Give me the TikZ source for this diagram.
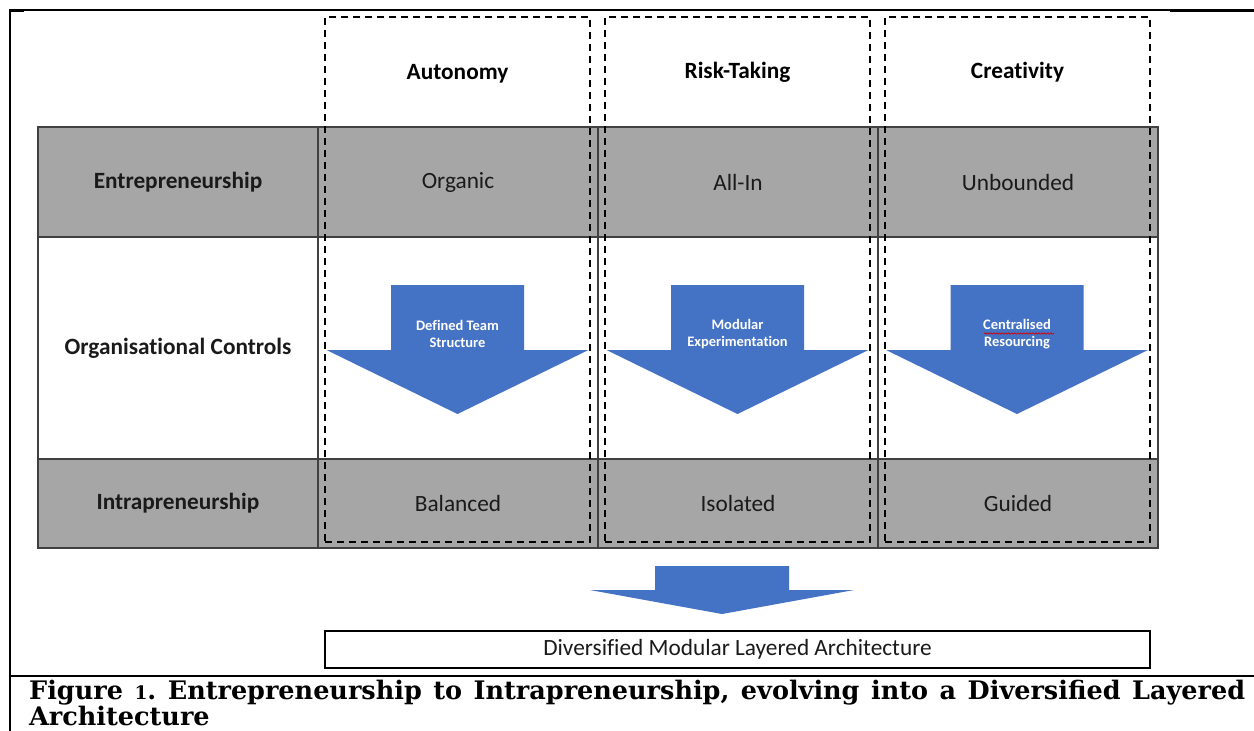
\documentclass[tikz,border=0pt]{standalone}
\usepackage{fontspec}
\setmainfont{Carlito}[Ligatures={NoCommon}]
\newfontfamily\capfont{DejaVu Serif}
\usetikzlibrary{decorations.pathmorphing}

\definecolor{tgray}{HTML}{A6A6A6}
\definecolor{tline}{HTML}{404040}
\definecolor{arrowblue}{HTML}{4472C4}
\definecolor{inktext}{HTML}{1A1A1A}

\newcommand{\cellsize}{\fontsize{23.3bp}{28bp}\selectfont}

\begin{document}
\begin{tikzpicture}[x=1bp, y=-1bp,
  cell/.style={draw=tline, line width=1.4bp, minimum width=280bp, inner sep=0pt,
               text=inktext, font=\cellsize},
  gcell/.style={cell, fill=tgray},
  wcell/.style={cell, fill=white},
  rowhead/.style={font=\cellsize\bfseries},
  colframe/.style={draw=black, line width=2bp, dash pattern=on 7bp off 5bp,
                   minimum width=265bp, minimum height=525bp, inner sep=0pt},
  colhead/.style={font=\cellsize\bfseries, text=black},
  blockarrow/.style={fill=arrowblue},
  arrowtext/.style={text=white, align=center, inner sep=0pt,
                    font=\fontsize{14.5bp}{17bp}\selectfont\bfseries},
  resultbox/.style={draw=black, line width=2bp, minimum width=825bp,
                    minimum height=37bp, inner sep=0pt, text=inktext,
                    font=\fontsize{23.3bp}{26bp}\selectfont},
  captiontext/.style={inner sep=0pt, text=black,
                      font=\capfont\bfseries\fontsize{25.5bp}{30bp}\selectfont\frenchspacing}
]
\useasboundingbox (0,0) rectangle (1254,731);
\fill[white] (0,0) rectangle (1254,731);

% outer frame of the figure
\draw[line width=1.5bp] (1254,10) -- (10,10) -- (10,731);
\draw[line width=3bp] (1170,11) -- (1254,11);
\draw[line width=2bp] (10,11) -- (24,11);
\draw[line width=2.5bp] (10,676) -- (1254,676);

% table: first row
\node[gcell, rowhead, minimum height=110bp] (r1c0) at (178,182) {Entrepreneurship};
\node[gcell, minimum height=110bp] (r1c1) at (458,182) {Organic};
\node[gcell, minimum height=110bp] (r1c2) at (738,182) {All-In};
\node[gcell, minimum height=110bp] (r1c3) at (1018,182) {Unbounded};

% table: second row
\node[wcell, rowhead, minimum height=222bp] (r2c0) at (178,348) {Organisational Controls};
\node[wcell, minimum height=222bp] (r2c1) at (458,348) {};
\node[wcell, minimum height=222bp] (r2c2) at (738,348) {};
\node[wcell, minimum height=222bp] (r2c3) at (1018,348) {};

% table: third row
\node[gcell, rowhead, minimum height=89bp] (r3c0) at (178,503.5) {Intrapreneurship};
\node[gcell, minimum height=89bp] (r3c1) at (458,503.5) {Balanced};
\node[gcell, minimum height=89bp] (r3c2) at (738,503.5) {Isolated};
\node[gcell, minimum height=89bp] (r3c3) at (1018,503.5) {Guided};

% block arrows in the middle row
\foreach \cx in {457.5, 737.5, 1017}{
  \begin{scope}[shift={(\cx,0)}]
    \fill[blockarrow] (-66.5,285) -- (66.5,285) -- (66.5,350) -- (131,350)
      -- (0,414) -- (-131,350) -- (-66.5,350) -- cycle;
  \end{scope}
}
\node[arrowtext] (tA) at (457.5,334) {Defined Team\\Structure};
\node[arrowtext] (tR) at (737.5,334) {Modular\\Experimentation};
\node[arrowtext] (tC) at (1017,334) {Centralised\\Resourcing};
\draw[red!85!black, line width=0.7bp, decorate,
      decoration={snake, amplitude=0.7bp, segment length=3bp}]
  (984,333.5) -- (1054,333.5);

% dashed column frames with their headings
\node[colframe] (fA) at (457.5,279.5) {};
\node[colframe] (fR) at (737.5,279.5) {};
\node[colframe] (fC) at (1017.5,279.5) {};
\node[colhead] (hA) at (457.5,74) {Autonomy};
\node[colhead] (hR) at (737.5,72) {Risk-Taking};
\node[colhead] (hC) at (1017.5,72) {Creativity};

% arrow towards the resulting architecture
\begin{scope}[shift={(722,0)}]
  \fill[blockarrow] (-67,566) -- (67,566) -- (67,590) -- (132,590)
    -- (0,614) -- (-132,590) -- (-67,590) -- cycle;
\end{scope}
\node[resultbox] (arch) at (737.5,649.5) {Diversified Modular Layered Architecture};

% caption
\node[captiontext, anchor=base west] (cap1) at (29,699)
  {\makebox[1216bp][s]{Figure {\fontsize{18.5bp}{18.5bp}\selectfont 1}. Entrepreneurship to Intrapreneurship, evolving into a Diversified Layered}};
\node[captiontext, anchor=base west] (cap2) at (29,725.5) {Architecture};
\end{tikzpicture}
\end{document}
